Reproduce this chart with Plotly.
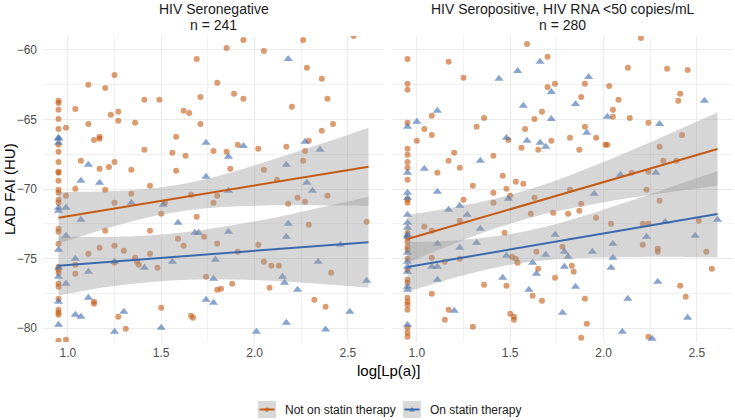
import plotly.graph_objects as go

# ---------------- data ----------------
# Left facet: HIV Seronegative (n = 241)
neg_off_x = [2.53, 1.94, 2.26, 1.85, 2.05, 1.69, 2.28, 1.25, 2.36, 1.80, 1.11, 1.20, 1.89, 1.71, 2.39, 1.94,
             1.41, 1.49, 0.95, 0.95, 0.95, 1.04, 2.20, 1.62, 1.65, 1.27, 1.23, 0.95, 1.27, 1.36, 1.11, 1.71,
             2.42, 0.99, 0.95, 2.36, 1.58, 1.17, 1.14, 1.17, 0.95, 1.91, 1.41, 1.78, 1.85, 1.56, 1.63, 2.02,
             2.17, 2.29, 2.27, 0.95, 0.95, 1.07, 1.25, 1.22, 1.17, 1.34, 1.58, 0.95, 0.95, 1.87, 2.05, 2.26,
             0.95, 2.12, 1.04, 1.20, 0.95, 0.95, 0.95, 0.95, 0.99, 1.34, 1.44, 1.66, 1.80, 2.23, 2.39, 1.25,
             1.52, 1.78, 2.18, 2.27, 1.50, 1.69, 2.29, 0.95, 0.95, 1.20, 1.44, 1.73, 1.59, 0.95, 1.80, 1.62,
             1.17, 1.25, 1.30, 1.11, 1.44, 2.02, 1.91, 0.95, 1.36, 1.37, 2.05, 2.09, 2.13, 2.60, 0.95, 0.95,
             1.04, 1.04, 1.25, 1.38, 1.48, 0.95, 0.95, 1.74, 1.88, 1.80, 1.82, 2.08, 2.41, 0.95, 1.14, 1.14,
             2.32, 2.38, 1.50, 0.95, 0.95, 0.95, 1.27, 1.66, 1.67, 1.31, 0.95, 0.99]
neg_off_y = [-59.00, -59.28, -59.28, -59.86, -60.07, -60.65, -61.29, -61.80, -62.08, -62.37, -62.51, -62.73,
             -63.16, -63.38, -63.52, -63.52, -63.59, -63.59, -63.66, -63.81, -64.31, -64.24, -64.09, -64.38,
             -64.53, -64.45, -64.67, -64.96, -65.10, -65.24, -65.32, -65.32, -65.32, -65.60, -65.68, -65.82,
             -66.25, -66.25, -66.47, -66.39, -66.82, -66.82, -67.18, -67.26, -67.33, -67.40, -67.61, -67.11,
             -66.97, -66.54, -67.26, -67.33, -68.05, -67.97, -68.05, -68.41, -68.55, -68.62, -68.69, -68.76,
             -68.84, -68.55, -68.62, -67.97, -69.41, -69.34, -69.99, -70.06, -70.06, -70.27, -70.77, -70.99,
             -70.49, -70.34, -69.77, -70.42, -70.49, -70.63, -70.49, -70.99, -70.99, -70.99, -71.06, -70.92,
             -71.78, -72.00, -72.57, -72.86, -73.07, -73.00, -73.00, -73.43, -73.58, -73.94, -73.94, -74.08,
             -74.22, -74.08, -74.44, -74.66, -74.66, -74.01, -74.51, -75.59, -74.94, -75.23, -75.23, -75.52,
             -75.52, -72.36, -75.80, -76.02, -76.09, -75.45, -75.30, -75.45, -75.66, -76.81, -77.03, -76.31,
             -76.81, -77.24, -77.17, -77.10, -76.02, -77.89, -78.10, -78.25, -77.96, -78.46, -78.53, -78.68,
             -78.89, -79.04, -79.18, -79.11, -79.25, -80.04, -80.91, -80.83]

neg_on_x = [2.18, 0.95, 0.95, 0.95, 1.74, 1.94, 1.86, 2.27, 2.35, 1.11, 2.17, 1.74, 1.07, 1.17, 2.28, 1.86,
            2.31, 1.34, 0.95, 0.95, 0.99, 1.51, 1.07, 1.59, 2.18, 0.99, 1.68, 1.70, 1.86, 2.17, 0.95, 2.46,
            1.04, 1.25, 1.56, 1.79, 2.34, 0.95, 1.11, 1.41, 0.99, 1.78, 2.15, 2.16, 2.23, 2.60, 0.95, 1.11,
            1.74, 1.78, 1.04, 1.07, 1.30, 2.51, 2.17, 1.25, 1.50, 2.01, 2.38, 0.95, 0.95]
neg_on_y = [-60.65, -66.32, -66.39, -66.68, -66.68, -66.90, -67.69, -66.61, -67.18, -68.26, -68.26, -69.12,
            -69.41, -69.55, -69.55, -70.13, -70.13, -70.99, -71.35, -71.57, -71.35, -71.14, -72.21, -72.43,
            -72.50, -73.36, -73.15, -73.15, -73.07, -73.43, -74.37, -74.01, -75.01, -75.23, -75.23, -75.09,
            -75.23, -76.31, -75.95, -75.66, -76.81, -76.45, -76.31, -76.74, -77.24, -76.59, -78.10, -77.82,
            -77.96, -78.18, -79.04, -79.18, -78.82, -78.82, -79.61, -80.26, -79.97, -80.26, -80.11, -75.66,
            -79.76]

# Right facet: HIV Seropositive, HIV RNA <50 copies/mL (n = 280)
pos_off_x = [2.20, 1.59, 1.70, 0.95, 1.17, 1.25, 2.34, 2.45, 2.13, 0.95, 0.95, 1.70, 1.74, 1.90, 2.03, 1.88,
             2.08, 2.41, 2.40, 1.67, 1.63, 1.36, 1.08, 0.95, 1.04, 1.08, 1.32, 1.58, 2.05, 2.05, 2.14, 2.24,
             1.90, 2.42, 1.00, 1.49, 1.56, 1.65, 1.72, 1.82, 1.87, 1.96, 2.01, 2.02, 0.95, 0.95, 0.95, 0.95,
             0.95, 1.20, 1.17, 1.23, 1.11, 1.41, 1.46, 1.53, 1.57, 1.30, 1.41, 1.48, 1.50, 1.25, 1.41, 1.63,
             1.82, 1.88, 1.87, 1.81, 1.73, 1.61, 2.30, 2.32, 2.39, 2.24, 2.15, 2.23, 2.30, 1.96, 2.04, 1.23,
             1.04, 1.08, 1.47, 2.21, 2.24, 2.51, 2.21, 2.29, 2.29, 2.55, 1.78, 1.64, 1.51, 1.53, 1.54, 1.08,
             1.15, 1.23, 1.83, 2.58, 1.65, 1.84, 1.36, 1.48, 1.74, 1.08, 1.62, 1.67, 1.90, 2.41, 2.44, 1.17,
             1.15, 1.30, 1.50, 1.52, 1.52, 1.91, 1.88, 2.24, 0.95, 0.95, 0.95, 0.95, 0.95, 0.95, 0.95, 0.95,
             0.95, 0.95, 0.95, 0.95, 0.95, 0.95, 0.95, 0.95, 0.95, 0.95]
pos_off_y = [-59.14, -59.57, -60.50, -60.65, -60.86, -62.01, -61.36, -61.44, -61.29, -62.44, -62.87, -62.66,
             -62.44, -62.44, -62.59, -63.38, -63.59, -63.16, -63.66, -64.45, -64.96, -64.89, -64.74, -65.24,
             -65.68, -66.11, -65.53, -65.68, -64.31, -64.81, -64.89, -65.24, -65.53, -66.11, -66.54, -66.47,
             -67.04, -67.18, -66.54, -66.32, -67.18, -66.32, -66.82, -66.82, -67.11, -67.54, -68.05, -68.48,
             -69.34, -67.40, -67.97, -68.48, -68.84, -67.61, -69.05, -69.48, -69.63, -69.77, -70.27, -69.99,
             -70.49, -70.78, -70.99, -70.63, -70.06, -71.06, -71.57, -71.78, -71.71, -71.78, -66.97, -67.97,
             -67.97, -68.76, -68.84, -70.06, -70.85, -72.07, -72.50, -72.28, -72.72, -73.00, -73.15, -72.50,
             -72.50, -72.28, -74.01, -74.30, -74.51, -74.51, -74.15, -74.51, -74.87, -75.01, -75.30, -74.94,
             -75.23, -75.01, -75.52, -75.73, -75.73, -75.95, -76.88, -76.95, -76.38, -77.53, -77.67, -78.03,
             -77.89, -76.95, -77.74, -78.68, -79.40, -79.90, -78.97, -79.18, -79.40, -79.68, -80.69, -80.62,
             -70.78, -70.99, -73.15, -73.51, -73.79, -74.15, -74.37, -75.01, -75.80, -76.52, -76.74, -77.82,
             -78.10, -78.32, -78.68, -79.97, -80.33, -80.62, -80.83, -69.90]

pos_on_x = [1.66, 1.54, 1.44, 1.92, 1.72, 1.57, 1.85, 2.54, 1.11, 1.00, 0.95, 1.72, 2.02, 2.30, 1.91, 1.48,
            1.59, 1.66, 1.69, 1.04, 1.34, 1.11, 0.95, 0.95, 0.95, 1.17, 1.23, 1.27, 1.49, 0.95, 0.95, 0.95,
            1.34, 1.32, 1.23, 1.11, 1.95, 2.09, 2.28, 2.33, 2.61, 1.74, 2.05, 2.23, 2.49, 1.79, 1.81, 1.69,
            1.94, 2.05, 1.48, 1.62, 1.08, 1.11, 1.79, 2.04, 1.64, 1.46, 1.85, 1.60, 2.29, 2.13, 1.11, 1.20,
            1.78, 2.45, 2.10, 2.26, 0.95, 0.95, 0.95, 0.95, 0.95, 0.95, 0.95, 0.95, 0.95]
pos_on_y = [-60.86, -61.51, -62.08, -61.94, -63.02, -64.02, -63.88, -63.66, -64.38, -65.17, -65.53, -64.96,
            -64.81, -65.32, -65.96, -66.32, -66.54, -66.68, -66.97, -68.55, -67.97, -70.20, -68.84, -70.27,
            -70.63, -71.49, -71.21, -71.85, -70.70, -71.85, -72.43, -73.43, -72.86, -73.87, -74.22, -73.94,
            -70.34, -68.98, -68.84, -72.36, -72.21, -73.29, -73.94, -73.43, -73.36, -74.51, -74.87, -74.73,
            -74.51, -74.94, -74.80, -75.30, -75.59, -75.59, -75.59, -75.66, -76.09, -76.38, -77.03, -77.24,
            -76.67, -77.89, -76.52, -78.75, -78.89, -79.25, -80.26, -80.76, -72.79, -73.29, -74.58, -75.23,
            -75.59, -75.95, -77.03, -77.24, -79.76]

# Linear fits with 95% confidence bands
fit_x = [0.95, 1.20, 1.45, 1.70, 1.95, 2.20, 2.45, 2.61]
neg_off_fit = [-72.07, -71.52, -70.97, -70.42, -69.86, -69.31, -68.76, -68.40]
neg_off_hi = [-70.22, -70.17, -69.96, -69.40, -68.50, -67.45, -66.34, -65.60]
neg_off_lo = [-73.92, -72.87, -71.98, -71.44, -71.22, -71.17, -71.19, -71.20]
neg_on_fit = [-75.52, -75.26, -75.01, -74.75, -74.49, -74.24, -73.98, -73.82]
neg_on_hi = [-73.39, -73.45, -73.33, -72.99, -72.45, -71.79, -71.05, -70.55]
neg_on_lo = [-77.65, -77.07, -76.68, -76.51, -76.53, -76.69, -76.92, -77.09]
pos_off_fit = [-73.60, -72.63, -71.65, -70.68, -69.70, -68.73, -67.75, -67.13]
pos_off_hi = [-71.88, -71.32, -70.60, -69.60, -68.33, -66.93, -65.45, -64.50]
pos_off_lo = [-75.32, -73.93, -72.70, -71.75, -71.07, -70.53, -70.05, -69.76]
pos_on_fit = [-75.61, -75.04, -74.46, -73.89, -73.31, -72.74, -72.16, -71.80]
pos_on_hi = [-73.81, -73.70, -73.35, -72.67, -71.70, -70.60, -69.44, -68.70]
pos_on_lo = [-77.41, -76.38, -75.57, -75.11, -74.93, -74.88, -74.88, -74.90]

panel_titles = ["HIV Seronegative<br>n = 241", "HIV Seropositive, HIV RNA <50 copies/mL<br>n = 280"]
group_labels = ["Not on statin therapy", "On statin therapy"]
x_ticks = [1.0, 1.5, 2.0, 2.5]
y_ticks = [-80, -75, -70, -65, -60]

# ---------------- styling ----------------
W, H = 735, 420
ORANGE = "#C45A14"
BLUE = "#3B68AD"
ORANGE_PT = "rgba(196,90,20,0.6)"
BLUE_PT = "rgba(59,104,173,0.6)"
BAND = "rgba(153,153,153,0.4)"
FONT = "Liberation Sans, Arial, sans-serif"

fig = go.Figure()

panels = [
    ("x", "y", neg_off_x, neg_off_y, neg_on_x, neg_on_y,
     (neg_off_fit, neg_off_lo, neg_off_hi), (neg_on_fit, neg_on_lo, neg_on_hi)),
    ("x2", "y2", pos_off_x, pos_off_y, pos_on_x, pos_on_y,
     (pos_off_fit, pos_off_lo, pos_off_hi), (pos_on_fit, pos_on_lo, pos_on_hi)),
]

for xa, ya, ox, oy, bx, by, ofit, bfit in panels:
    fig.add_trace(go.Scatter(x=ox, y=oy, xaxis=xa, yaxis=ya, mode="markers", showlegend=False,
                             marker=dict(symbol="circle", size=6, color=ORANGE_PT, line=dict(width=0)),
                             hoverinfo="skip"))
    fig.add_trace(go.Scatter(x=bx, y=by, xaxis=xa, yaxis=ya, mode="markers", showlegend=False,
                             marker=dict(symbol="triangle-up", size=8, color=BLUE_PT, line=dict(width=0)),
                             hoverinfo="skip"))
    for (fit, lo, hi), col in ((ofit, ORANGE), (bfit, BLUE)):
        fig.add_trace(go.Scatter(x=fit_x, y=lo, xaxis=xa, yaxis=ya, mode="lines", showlegend=False,
                                 line=dict(width=0, shape="spline"), hoverinfo="skip"))
        fig.add_trace(go.Scatter(x=fit_x, y=hi, xaxis=xa, yaxis=ya, mode="lines", showlegend=False,
                                 fill="tonexty", fillcolor=BAND,
                                 line=dict(width=0, shape="spline"), hoverinfo="skip"))
    for fit, col in ((ofit[0], ORANGE), (bfit[0], BLUE)):
        fig.add_trace(go.Scatter(x=fit_x, y=fit, xaxis=xa, yaxis=ya, mode="lines", showlegend=False,
                                 line=dict(width=2, color=col), hoverinfo="skip"))

GRID = "#EBEBEB"
MINOR = "#F2F2F2"
xcommon = dict(range=[0.867, 2.693], tickvals=x_ticks, ticktext=[f"{v:.1f}" for v in x_ticks],
               showgrid=True, gridcolor=GRID, gridwidth=1, zeroline=False, showline=False, ticks="",
               ticklabelstandoff=2,
               tickfont=dict(family=FONT, size=12, color="#4D4D4D"),
               minor=dict(tickvals=[1.25, 1.75, 2.25], showgrid=True, gridcolor=MINOR, gridwidth=1))
ycommon = dict(range=[-81, -59], tickvals=y_ticks, showgrid=True, gridcolor=GRID, gridwidth=1,
               zeroline=False, showline=False, ticks="",
               tickfont=dict(family=FONT, size=12, color="#4D4D4D"),
               minor=dict(tickvals=[-77.5, -72.5, -67.5, -62.5], showgrid=True, gridcolor=MINOR, gridwidth=1))

ydom = [(H - 342) / H, (H - 36) / H]
fig.update_layout(
    width=W, height=H, autosize=False,
    margin=dict(l=0, r=0, t=0, b=0),
    paper_bgcolor="white", plot_bgcolor="white",
    font=dict(family=FONT, color="#1A1A1A"),
    xaxis=dict(domain=[43 / W, 384 / W], anchor="y", **xcommon),
    xaxis2=dict(domain=[392 / W, 733 / W], anchor="y2", **xcommon),
    yaxis=dict(domain=ydom, anchor="x", ticklabelstandoff=5, **ycommon),
    yaxis2=dict(domain=ydom, anchor="x2", showticklabels=False, matches="y", **ycommon),
)

def px(x):
    return x / W

def py(y):
    return 1 - y / H

ann = []
for title, cx in zip(panel_titles, [213.5, 562.5]):
    l1, l2 = title.split("<br>")
    ann.append(dict(text=l1, x=px(cx), y=py(9), xref="paper", yref="paper", showarrow=False,
                    xanchor="center", yanchor="middle", font=dict(family=FONT, size=14, color="#1A1A1A")))
    ann.append(dict(text=l2, x=px(cx), y=py(25), xref="paper", yref="paper", showarrow=False,
                    xanchor="center", yanchor="middle", font=dict(family=FONT, size=14, color="#1A1A1A")))
ann.append(dict(text="LAD FAI (HU)", x=px(10), y=py(189), xref="paper", yref="paper", showarrow=False,
                textangle=-90, xanchor="center", yanchor="middle", font=dict(family=FONT, size=15, color="#000")))
ann.append(dict(text="log[Lp(a)]", x=px(388), y=py(370), xref="paper", yref="paper", showarrow=False,
                xanchor="center", yanchor="middle", font=dict(family=FONT, size=15, color="#000")))

# legend (ggplot-style keys)
shapes = []
keys = [(258, ORANGE, ORANGE_PT, "circle", group_labels[0]), (403, BLUE, BLUE_PT, "tri", group_labels[1])]
for kx, lc, pc, sym, lab in keys:
    shapes.append(dict(type="rect", xref="paper", yref="paper", x0=px(kx), x1=px(kx + 18),
                       y0=py(418), y1=py(401), fillcolor="#D9D9D9", line=dict(width=0), layer="above"))
    shapes.append(dict(type="line", xref="paper", yref="paper", x0=px(kx + 1.5), x1=px(kx + 16.5),
                       y0=py(409.5), y1=py(409.5), line=dict(color=lc, width=2), layer="above"))
    cx = kx + 9
    if sym == "circle":
        shapes.append(dict(type="circle", xref="paper", yref="paper", x0=px(cx - 2.2), x1=px(cx + 2.2),
                           y0=py(411.7), y1=py(407.3), fillcolor=pc, line=dict(width=0), layer="above"))
    else:
        path = "M {} {} L {} {} L {} {} Z".format(px(cx - 2.8), py(411.8), px(cx + 2.8), py(411.8), px(cx), py(406.8))
        shapes.append(dict(type="path", xref="paper", yref="paper", path=path, fillcolor=pc,
                           line=dict(width=0), layer="above"))
    ann.append(dict(text=lab, x=px(kx + 25), y=py(410), xref="paper", yref="paper", showarrow=False,
                    xanchor="left", yanchor="middle", font=dict(family=FONT, size=12, color="#1A1A1A")))

fig.update_layout(annotations=ann, shapes=shapes)
fig.write_html("out.html")
